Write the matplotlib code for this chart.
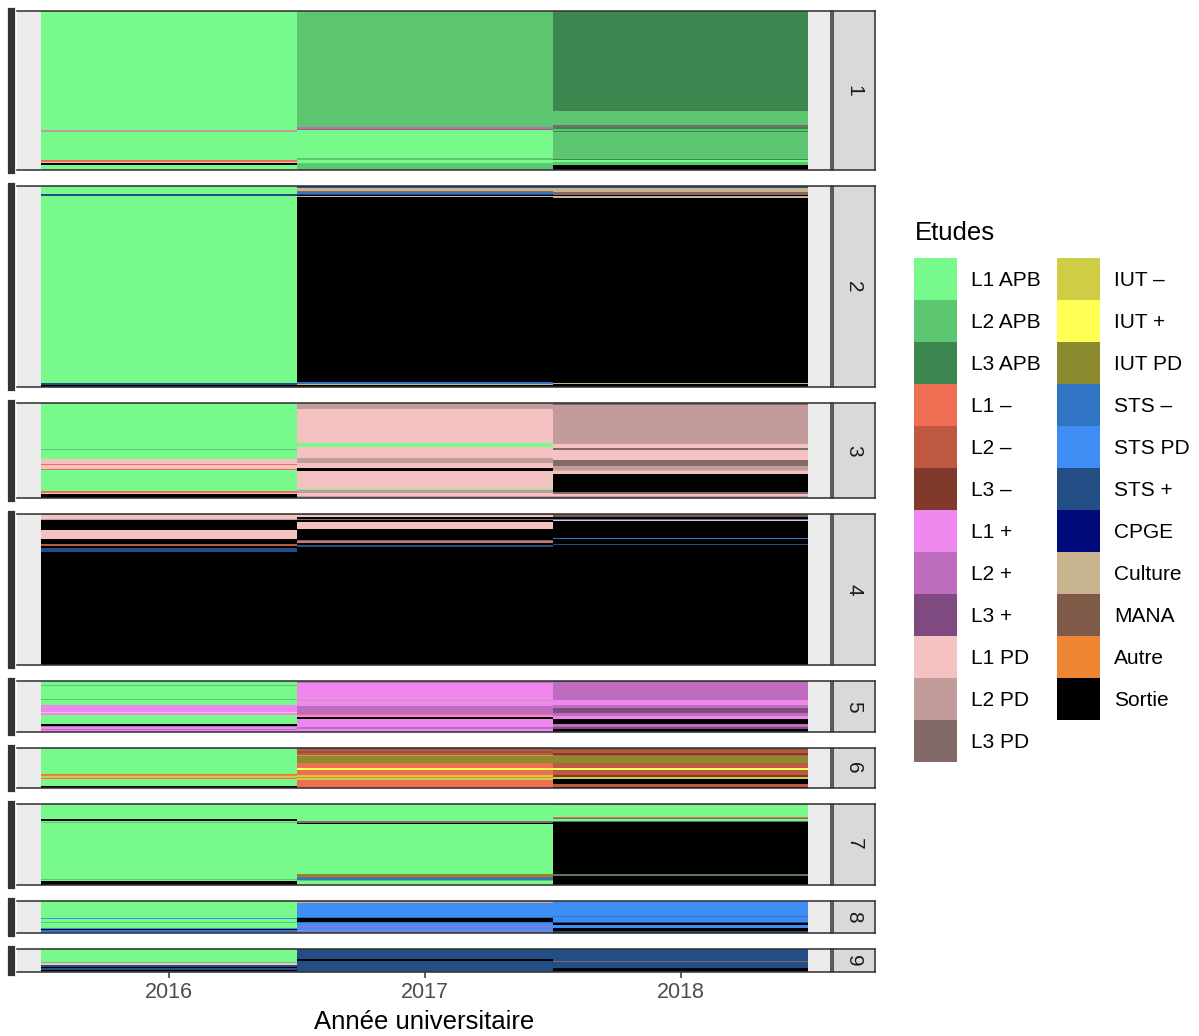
import matplotlib
matplotlib.use("Agg")
import matplotlib.pyplot as plt
from matplotlib.patches import Rectangle

plt.rcParams["font.family"] = ["Liberation Sans", "DejaVu Sans"]

W, H = 1199, 1036

states = ["L1 APB", "L2 APB", "L3 APB", "L1 –", "L2 –", "L3 –", "L1 +", "L2 +",
          "L3 +", "L1 PD", "L2 PD", "L3 PD", "IUT –", "IUT +", "IUT PD", "STS –",
          "STS PD", "STS +", "CPGE", "Culture", "MANA", "Autre", "Sortie"]
colors = ["#77F98C", "#5CC671", "#3B874F", "#EE6E53", "#BE5841", "#7F3A2B",
          "#EE88EE", "#BE6CBE", "#7F4A7F", "#F5C2C2", "#C49B9B", "#836968",
          "#CFCC45", "#FFFF55", "#8B8A2E", "#3274C4", "#3F8EF5", "#224E85",
          "#000A7A", "#C8B48E", "#7F5A48", "#EE8533", "#000000"]
years = [2016, 2017, 2018]
clusters = ["1", "2", "3", "4", "5", "6", "7", "8", "9"]

cl1 = {
    2016: [("L1 APB", 121), ("L2 PD", 2), ("L1 APB", 28), ("L1 –", 2), ("L1 PD", 1),
           ("Sortie", 2), ("L1 APB", 5)],
    2017: [("L2 APB", 118), ("L2 +", 2), ("L3 PD", 1), ("L1 APB", 28), ("L2 APB", 2),
           ("L1 APB", 3), ("L2 APB", 7)],
    2018: [("L3 APB", 101), ("L2 APB", 14), ("L3 PD", 3), ("L3 APB", 2), ("L2 APB", 2),
           ("L3 APB", 1), ("L2 APB", 27), ("L3 APB", 1), ("L1 APB", 2), ("L2 APB", 3),
           ("Sortie", 5)],
}
cl2 = {
    2016: [("L1 APB", 8), ("STS +", 2), ("L1 APB", 190), ("STS +", 2), ("Sortie", 2)],
    2017: [("STS +", 2), ("Culture", 3), ("L3 PD", 1), ("STS –", 2), ("STS +", 1),
           ("Sortie", 1), ("Culture", 1), ("Sortie", 188), ("STS –", 2), ("Culture", 1),
           ("Sortie", 2)],
    2018: [("STS +", 2), ("Culture", 4), ("L3 PD", 3), ("Sortie", 1), ("Culture", 2),
           ("Sortie", 188), ("Culture", 1), ("Sortie", 3)],
}
cl3 = {
    2016: [("L1 APB", 46), ("L2 APB", 1), ("L1 APB", 9), ("L1 PD", 6), ("L1 –", 1),
           ("L1 PD", 4), ("L1 –", 1), ("L1 APB", 21), ("L1 –", 2), ("L1 PD", 1),
           ("Sortie", 4)],
    2017: [("L2 PD", 6), ("L1 PD", 34), ("L1 APB", 4), ("L1 PD", 11), ("L2 PD", 6),
           ("L1 PD", 5), ("Sortie", 3), ("L1 PD", 18), ("L1 APB", 1), ("L2 PD", 3),
           ("L1 PD", 3), ("L2 PD", 2)],
    2018: [("L3 PD", 2), ("L2 PD", 39), ("L1 PD", 4), ("L3 PD", 2), ("L1 PD", 11),
           ("L3 PD", 6), ("L2 PD", 4), ("Culture", 1), ("L1 PD", 3), ("Sortie", 18),
           ("L3 PD", 2), ("L1 PD", 2), ("L2 PD", 2)],
}
cl4 = {
    2016: [("L2 PD", 1), ("L1 PD", 4), ("L2 PD", 1), ("Sortie", 10), ("L1 PD", 9),
           ("Sortie", 5), ("L2 –", 2), ("Sortie", 2), ("STS +", 5), ("Sortie", 114)],
    2017: [("L3 PD", 1), ("L1 PD", 2), ("Sortie", 2), ("L3 PD", 1), ("Sortie", 2),
           ("L1 PD", 7), ("Sortie", 11), ("STS –", 1), ("L1 –", 2), ("Sortie", 2),
           ("STS +", 2), ("Sortie", 120)],
    2018: [("MANA", 3), ("Sortie", 2), ("STS –", 1), ("L1 PD", 1), ("Sortie", 17),
           ("STS –", 1), ("Sortie", 5), ("STS +", 1), ("Sortie", 122)],
}
cl5 = {
    2016: [("L1 APB", 4), ("L2 APB", 1), ("L1 APB", 13), ("L2 APB", 1), ("L1 APB", 5),
           ("L1 +", 7), ("L1 PD", 1), ("L1 +", 2), ("L1 APB", 10), ("Sortie", 2),
           ("L2 +", 1), ("L1 +", 2), ("L2 +", 1), ("L1 +", 2)],
    2017: [("L2 +", 2), ("L1 +", 17), ("L2 PD", 1), ("L1 +", 5), ("L2 +", 8),
           ("L1 –", 1), ("L1 +", 2), ("Sortie", 2), ("L1 +", 9), ("L2 +", 2),
           ("L1 +", 3)],
    2018: [("L3 +", 1), ("L2 +", 18), ("L1 +", 5), ("L2 +", 3), ("L3 +", 5),
           ("L2 +", 3), ("L1 +", 3), ("Sortie", 6), ("L2 +", 3), ("L3 +", 2),
           ("Sortie", 3)],
}
cl6 = {
    2016: [("L1 APB", 26), ("L1 –", 1), ("Autre", 1), ("IUT –", 2), ("L1 –", 1),
           ("L1 APB", 7), ("Sortie", 2)],
    2017: [("L3 –", 1), ("L2 –", 2), ("MANA", 2), ("L2 –", 2), ("Autre", 1),
           ("IUT PD", 7), ("L1 –", 5), ("IUT +", 2), ("L1 –", 5), ("IUT –", 2),
           ("Autre", 1), ("IUT –", 2), ("L1 –", 8)],
    2018: [("MANA", 2), ("L2 –", 3), ("L3 –", 2), ("L2 –", 1), ("IUT PD", 7),
           ("L2 –", 5), ("IUT +", 2), ("L2 –", 5), ("L3 –", 2), ("IUT –", 2),
           ("Sortie", 5), ("L2 –", 3), ("Sortie", 1)],
}
cl7 = {
    2016: [("L1 APB", 15), ("Sortie", 2), ("L1 APB", 1), ("L2 APB", 1), ("L1 APB", 57),
           ("L2 APB", 1), ("L1 APB", 1), ("Sortie", 4)],
    2017: [("L1 APB", 17), ("L3 PD", 2), ("Sortie", 1), ("L1 APB", 51), ("IUT PD", 3),
           ("L3 PD", 1), ("STS –", 2), ("L2 APB", 1), ("L1 APB", 4)],
    2018: [("L2 APB", 1), ("L1 APB", 12), ("L1 –", 1), ("L3 PD", 1), ("L1 APB", 2),
           ("L3 APB", 1), ("Sortie", 53), ("L3 APB", 1), ("L3 PD", 1), ("Sortie", 9)],
}
cl8 = {
    2016: [("L1 APB", 18), ("STS PD", 1), ("L1 APB", 3), ("L2 APB", 1), ("L1 APB", 5),
           ("STS PD", 1), ("Sortie", 1), ("STS –", 2), ("STS PD", 1)],
    2017: [("Autre", 1), ("Culture", 1), ("STS PD", 14), ("STS –", 2), ("Sortie", 4),
           ("STS –", 1), ("STS PD", 3), ("L2 +", 1), ("STS PD", 3), ("L2 +", 1),
           ("STS PD", 2)],
    2018: [("STS PD", 15), ("STS –", 1), ("STS PD", 6), ("STS +", 1), ("Sortie", 2),
           ("STS PD", 3), ("Sortie", 3), ("STS +", 1), ("Sortie", 1)],
}
cl9 = {
    2016: [("L1 APB", 13), ("L2 APB", 1), ("L1 PD", 2), ("STS +", 2), ("Sortie", 1),
           ("STS +", 2), ("Sortie", 1), ("STS +", 1)],
    2017: [("STS +", 10), ("Sortie", 2), ("STS +", 11)],
    2018: [("STS +", 12), ("L3 PD", 1), ("STS +", 6), ("Sortie", 3), ("STS +", 1)],
}
cluster_data = [cl1, cl2, cl3, cl4, cl5, cl6, cl7, cl8, cl9]

color_of = dict(zip(states, colors))
totals = [sum(n for _, n in cl[2016]) for cl in cluster_data]

fig = plt.figure(figsize=(W / 100, H / 100), dpi=100)

# layout in pixels
top_px, bottom_px, gap_px = 11, 972, 16
left_px, panel_right, strip_left, strip_right = 17, 831, 833, 875
mean_h = (bottom_px - top_px - gap_px * (len(totals) - 1)) / len(totals)
mean_w = (strip_right - left_px - (strip_left - panel_right)) / 2
gs = fig.add_gridspec(
    len(totals), 2,
    height_ratios=totals,
    width_ratios=[panel_right - left_px, strip_right - strip_left],
    left=left_px / W, right=strip_right / W,
    top=1 - top_px / H, bottom=1 - bottom_px / H,
    hspace=gap_px / mean_h, wspace=(strip_left - panel_right) / mean_w,
)

border = "#333333"
for i, cl in enumerate(cluster_data):
    ax = fig.add_subplot(gs[i, 0])
    ax.set_facecolor("#EBEBEB")
    for yr in years:
        cum = 0
        for st, n in cl[yr]:
            ax.bar(yr, n, bottom=cum, width=1.0, color=color_of[st], linewidth=0)
            cum += n
    ax.set_xlim(2015.406, 2018.588)
    ax.set_ylim(totals[i], 0)
    ax.set_yticks([])
    for side in ["top", "right", "bottom"]:
        ax.spines[side].set_color(border)
        ax.spines[side].set_linewidth(1.15)
    ax.spines["left"].set_color(border)
    ax.spines["left"].set_linewidth(5.2)
    ax.spines["left"].set_position(("outward", 4.5))
    if i == len(cluster_data) - 1:
        ax.set_xticks(years)
        ax.set_xticklabels([str(y) for y in years])
        ax.tick_params(axis="x", length=4, width=1.1, color=border,
                       labelsize=15.5, labelcolor="#4D4D4D", pad=3)
    else:
        ax.set_xticks([])

    sax = fig.add_subplot(gs[i, 1])
    sax.set_facecolor("#D9D9D9")
    sax.set_xticks([])
    sax.set_yticks([])
    for side in sax.spines:
        sax.spines[side].set_color(border)
        sax.spines[side].set_linewidth(1.15)
    sax.text(0.5, 0.5, clusters[i], rotation=-90, ha="center", va="center",
             fontsize=15, color="#1A1A1A", transform=sax.transAxes)

fig.text((left_px + panel_right) / 2 / W, 1 - 1022 / H, "Année universitaire",
         ha="center", va="center", fontsize=18.5, color="black")

# legend drawn in pixel coordinates
lax = fig.add_axes([0, 0, 1, 1])
lax.set_xlim(0, W)
lax.set_ylim(H, 0)
lax.axis("off")
lax.text(915, 233, "Etudes", ha="left", va="center", fontsize=18.5)
key_w, key_h, rows = 43, 42, 12
for k, (st, c) in enumerate(zip(states, colors)):
    col, row = divmod(k, rows)
    x0 = 914 + col * 143
    y0 = 258 + row * key_h
    lax.add_patch(Rectangle((x0, y0), key_w, key_h, facecolor=c, edgecolor="none"))
    lax.text(x0 + key_w + 14, y0 + key_h / 2 + 1, st, ha="left", va="center",
             fontsize=15)

fig.savefig("out.png", dpi=100)
